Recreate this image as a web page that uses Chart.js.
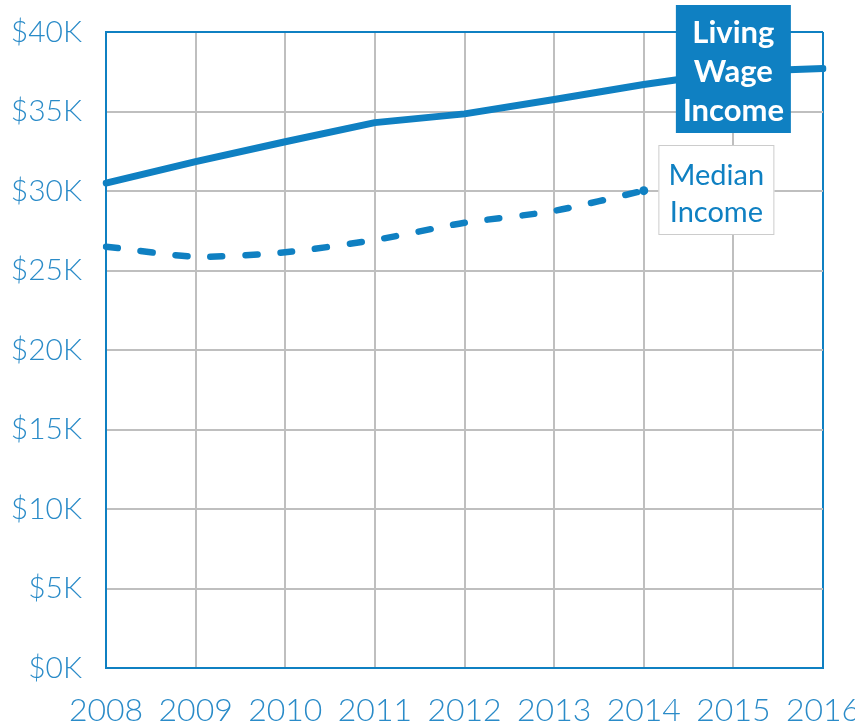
<!DOCTYPE html>
<html><head><meta charset="utf-8">
<script src="https://cdn.jsdelivr.net/npm/chart.js@4/dist/chart.umd.min.js"></script>
<style>html,body{margin:0;padding:0;background:#fff;overflow:hidden}#wrap{width:855px;height:728px;position:relative}</style>
</head><body><div id="wrap"><canvas id="c" width="855" height="728"></canvas></div>
<script>
// Data (values in thousands of dollars)
const years = ['2008','2009','2010','2011','2012','2013','2014','2015','2016'];
const livingWage = [30.5, 31.85, 33.1, 34.3, 34.85, 35.75, 36.7, 37.5, 37.7];
const medianIncome = [26.5, 25.87, 26.15, 26.92, 28.0, 28.75, 30.02, null, null];
const yTickLabels = ['$0K','$5K','$10K','$15K','$20K','$25K','$30K','$35K','$40K'];
const livingLabel = ['Living','Wage','Income'];
const medianLabel = ['Median','Income'];

const BLUE = '#0f80c2';
const TICK_BLUE = '#2a8bc8';
const GRID = '#bfbfbf';

const annot = {
  id: 'annot',
  afterDatasetsDraw(chart) {
    const ctx = chart.ctx, xs = chart.scales.x;
    const cx = xs.getPixelForValue(7);
    ctx.save();
    // Living Wage Income box
    ctx.fillStyle = BLUE;
    ctx.fillRect(cx - 57.5, 5, 115, 128);
    ctx.fillStyle = '#ffffff';
    ctx.font = 'bold 31px Lato, sans-serif';
    ctx.textAlign = 'center';
    ctx.textBaseline = 'alphabetic';
    [43, 82, 121].forEach((b, i) => ctx.fillText(livingLabel[i], cx, b));
    // Median Income box
    const mx = cx - 17;
    ctx.fillStyle = '#ffffff';
    ctx.fillRect(mx - 58, 145, 116, 90);
    ctx.strokeStyle = '#cccccc';
    ctx.lineWidth = 1;
    ctx.strokeRect(mx - 57.5, 145.5, 115, 89);
    ctx.fillStyle = BLUE;
    ctx.font = '29px Lato, sans-serif';
    [185, 222].forEach((b, i) => ctx.fillText(medianLabel[i], mx, b));
    ctx.restore();
  }
};

new Chart(document.getElementById('c'), {
  type: 'line',
  data: {
    labels: years,
    datasets: [
      {
        label: 'Living Wage Income',
        data: livingWage,
        borderColor: BLUE,
        borderWidth: 7,
        pointRadius: 0,
        tension: 0,
        borderCapStyle: 'round',
        borderJoinStyle: 'round'
      },
      {
        label: 'Median Income',
        data: medianIncome,
        borderColor: BLUE,
        backgroundColor: BLUE,
        borderWidth: 6.5,
        borderDash: [12, 23],
        borderCapStyle: 'round',
        pointRadius: [0,0,0,0,0,0,4.5,0,0],
        pointBorderWidth: 0,
        tension: 0.25
      }
    ]
  },
  options: {
    responsive: false,
    animation: false,
    devicePixelRatio: 1,
    layout: { padding: { top: 32, right: 32, left: 0, bottom: 0 } },
    plugins: { legend: { display: false }, tooltip: { enabled: false } },
    scales: {
      x: {
        offset: false,
        grid: {
          color: c => (c.index === years.length - 1 ? BLUE : GRID),
          lineWidth: 2,
          drawTicks: false
        },
        border: { color: BLUE, width: 2 },
        ticks: {
          color: TICK_BLUE,
          font: { family: 'Lato', size: 32, weight: '300' },
          padding: 23,
          maxRotation: 0,
          autoSkip: false
        },
        afterFit(s) { s.height = 60; s.paddingLeft = 0; s.paddingRight = 0; }
      },
      y: {
        min: 0, max: 40,
        ticks: {
          stepSize: 5,
          color: TICK_BLUE,
          font: { family: 'Lato', size: 30, weight: '300' },
          padding: 24,
          callback: (v, i) => yTickLabels[i]
        },
        grid: {
          color: c => (c.tick && c.tick.value === 40 ? BLUE : GRID),
          lineWidth: 2,
          drawTicks: false
        },
        border: { color: BLUE, width: 2 },
        afterFit(s) { s.width = 106; s.paddingTop = 0; s.paddingBottom = 0; }
      }
    }
  },
  plugins: [annot]
});
</script>
</body></html>
